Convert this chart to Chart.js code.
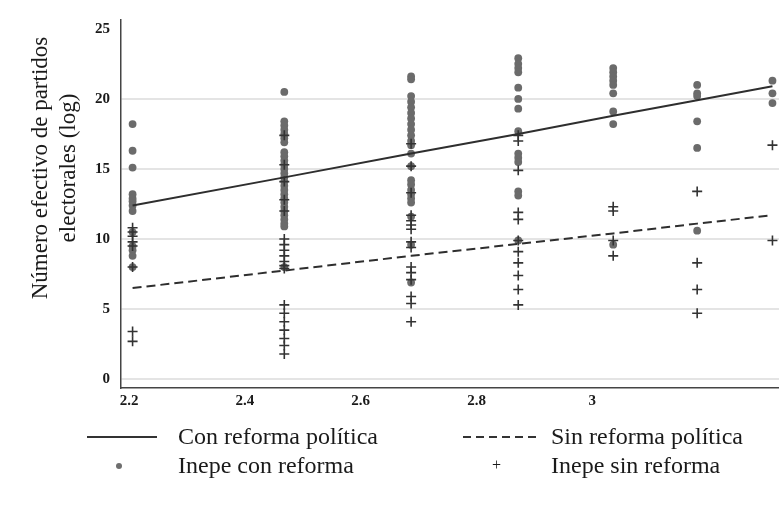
<!DOCTYPE html>
<html>
<head>
<meta charset="utf-8">
<script src="https://cdn.jsdelivr.net/npm/chart.js@4.4.1/dist/chart.umd.min.js"></script>
<style>
  body { margin: 0; background: #fff; }
  #wrap { position: relative; width: 779px; height: 507px; overflow: hidden; font-family: "Liberation Serif", serif; color: #1a1a1a; }
  #chart { position: absolute; left: 0; top: 0; }
  .ytitle { position: absolute; left: 54px; top: 168px; width: 340px; transform: translate(-50%, -50%) rotate(-90deg);
    text-align: center; font-size: 23px; line-height: 28px; }
  .lg { position: absolute; font-size: 24px; line-height: 26px; white-space: nowrap; }
  .solid { position: absolute; height: 0; border-top: 2px solid #333; }
  .dashed { position: absolute; height: 2px; background: repeating-linear-gradient(90deg, #333 0 8px, transparent 8px 13px); }
  .dot { position: absolute; width: 6px; height: 6px; border-radius: 50%; background: #6e6e6e; }
</style>
</head>
<body>
<div id="wrap">
  <canvas id="chart" width="786" height="507"></canvas>
  <div class="ytitle">Número efectivo de partidos<br>electorales (log)</div>

  <div class="solid" style="left:87px; top:436px; width:70px;"></div>
  <div class="lg" style="left:178px; top:423px;">Con reforma política</div>
  <div class="dashed" style="left:463px; top:436px; width:73px;"></div>
  <div class="lg" style="left:551px; top:423px;">Sin reforma política</div>
  <div class="dot" style="left:116px; top:463px;"></div>
  <div class="lg" style="left:178px; top:452px;">Inepe con reforma</div>
  <div class="lg" style="left:492px; top:452px; font-size:16px;">+</div>
  <div class="lg" style="left:551px; top:452px;">Inepe sin reforma</div>
</div>
<script>
// column positions on the x axis (log scale values)
const colX = [2.206, 2.468, 2.687, 2.872, 3.036, 3.181, 3.311];
const xTicks = [2.2, 2.4, 2.6, 2.8, 3.0];
const yTicks = [0, 5, 10, 15, 20, 25];

// fitted lines, value at each column
const lineCon = [12.4, 14.4, 16.1, 17.5, 18.8, 19.9, 20.9];
const lineSin = [6.5, 7.75, 8.8, 9.65, 10.4, 11.1, 11.7];

// Inepe con reforma (dots), per column
const dotsCol1 = [18.2, 16.3, 15.1, 13.2, 12.9, 12.7, 12.4, 12.0, 10.5, 9.5, 9.2, 8.8, 8.0];
const dotsCol2 = [20.5, 18.4, 18.1, 17.8, 17.5, 17.2, 16.9, 16.2, 15.9, 15.6, 15.3, 15.0, 14.7, 14.4, 14.1, 13.8, 13.5, 13.2, 12.9, 12.6, 12.3, 12.0, 11.7, 11.4, 11.1, 10.9, 8.0];
const dotsCol3 = [21.6, 21.4, 20.2, 19.8, 19.4, 19.0, 18.6, 18.2, 17.8, 17.4, 17.0, 16.7, 16.1, 15.2, 14.2, 13.9, 13.5, 13.2, 12.9, 12.6, 11.6, 9.6, 6.9];
const dotsCol4 = [22.9, 22.5, 22.2, 21.9, 20.8, 20.0, 19.3, 17.7, 16.1, 15.8, 15.5, 13.4, 13.1, 9.9];
const dotsCol5 = [22.2, 21.9, 21.6, 21.3, 21.0, 20.4, 19.1, 18.2, 9.6];
const dotsCol6 = [21.0, 20.4, 20.2, 18.4, 16.5, 10.6];
const dotsCol7 = [21.3, 20.4, 19.7];

// Inepe sin reforma (crosses), per column
const plusCol1 = [10.8, 10.5, 10.2, 9.8, 9.5, 8.0, 3.4, 2.7];
const plusCol2 = [17.4, 15.3, 14.1, 12.8, 12.0, 10.0, 9.6, 9.2, 8.8, 8.4, 8.1, 7.9, 5.3, 4.7, 4.1, 3.5, 2.9, 2.4, 1.8];
const plusCol3 = [16.8, 15.2, 13.3, 11.7, 11.3, 11.0, 10.7, 9.8, 9.4, 8.0, 7.6, 7.1, 5.9, 5.4, 4.1];
const plusCol4 = [17.4, 17.0, 14.9, 11.9, 11.4, 9.9, 9.1, 8.3, 7.4, 6.4, 5.3];
const plusCol5 = [12.3, 12.0, 9.9, 8.8];
const plusCol6 = [13.4, 8.3, 6.4, 4.7];
const plusCol7 = [16.7, 9.9];

const dotCols = [dotsCol1, dotsCol2, dotsCol3, dotsCol4, dotsCol5, dotsCol6, dotsCol7];
const plusCols = [plusCol1, plusCol2, plusCol3, plusCol4, plusCol5, plusCol6, plusCol7];

function toPoints(cols) {
  const pts = [];
  cols.forEach((vals, i) => vals.forEach(v => pts.push({ x: colX[i], y: v })));
  return pts;
}

const tickFont = { family: '"Liberation Serif", serif', size: 15, weight: 'bold' };

new Chart(document.getElementById('chart'), {
  type: 'scatter',
  data: {
    datasets: [
      { label: 'Con reforma política', type: 'line', data: colX.map((x, i) => ({ x, y: lineCon[i] })),
        borderColor: '#2e2e2e', borderWidth: 2, pointRadius: 0, fill: false, order: 0 },
      { label: 'Sin reforma política', type: 'line', data: colX.map((x, i) => ({ x, y: lineSin[i] })),
        borderColor: '#2e2e2e', borderWidth: 2, borderDash: [9, 5], pointRadius: 0, fill: false, order: 1 },
      { label: 'Inepe sin reforma', data: toPoints(plusCols), pointStyle: 'cross', pointRadius: 5,
        borderColor: '#333', borderWidth: 1.6, order: 2 },
      { label: 'Inepe con reforma', data: toPoints(dotCols), pointStyle: 'circle', pointRadius: 3.9,
        backgroundColor: '#6b6b6b', borderColor: '#6b6b6b', borderWidth: 0, order: 3 }
    ]
  },
  options: {
    responsive: false,
    animation: false,
    clip: false,
    layout: { padding: { top: 12, right: 0, bottom: 0, left: 0 } },
    plugins: { legend: { display: false }, tooltip: { enabled: false } },
    scales: {
      x: {
        type: 'linear', min: 2.186, max: 3.323,
        afterBuildTicks: s => { s.ticks = xTicks.map(v => ({ value: v })); },
        afterFit: s => { s.height = 507 - 388; },
        grid: { display: false, drawTicks: false },
        border: { display: true, color: '#444', width: 1.5 },
        ticks: { color: '#1a1a1a', font: tickFont, padding: 4, maxRotation: 0,
          callback: v => (Math.round(v * 10) / 10).toString() }
      },
      y: {
        min: -0.63, max: 25.63,
        afterBuildTicks: s => { s.ticks = yTicks.map(v => ({ value: v })); },
        afterFit: s => { s.width = 121; },
        grid: { drawTicks: false, lineWidth: 2,
          color: c => (c.tick && c.tick.value === 25 ? 'rgba(0,0,0,0)' : '#e4e4e4') },
        border: { display: true, color: '#444', width: 1.5 },
        ticks: { color: '#1a1a1a', font: tickFont, padding: 11 }
      }
    }
  }
});
</script>
</body>
</html>
